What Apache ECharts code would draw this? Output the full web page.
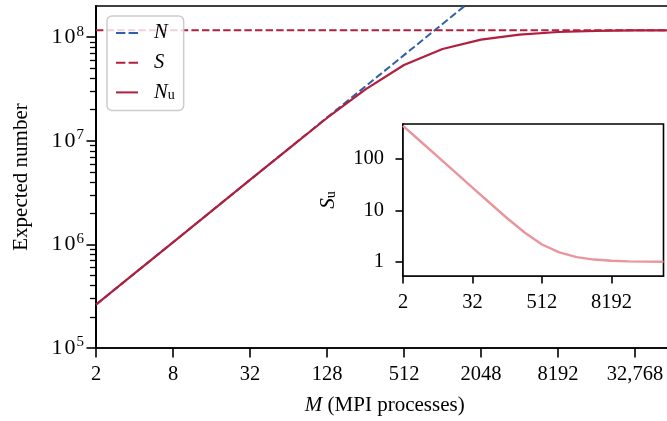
<!DOCTYPE html>
<html><head><meta charset="utf-8">
<script src="https://cdn.jsdelivr.net/npm/echarts@6/dist/echarts.min.js"></script>
<style>html,body{margin:0;padding:0;background:#fff}#c{width:667px;height:421px}</style>
</head><body><div id="c"></div>
<script>
// ---- data ----
const M = [2, 4, 8, 16, 32, 64, 128, 256, 512, 1024, 2048, 4096, 8192, 16384, 32768, 65536];
const N = [262144, 524288, 1048576, 2097152, 4194304, 8388608, 16777216, 33554432, 67108864,
           134217728, 268435456, 536870912, 1073741824, 2147483648, 4294967296, 8589934592];
const S = [1.166e8, 1.166e8, 1.166e8, 1.166e8, 1.166e8, 1.166e8, 1.166e8, 1.166e8, 1.166e8,
           1.166e8, 1.166e8, 1.166e8, 1.166e8, 1.166e8, 1.166e8, 1.166e8];
const Nu = [262000, 524000, 1048000, 2096000, 4190000, 8370000, 16600000, 31400000, 53900000,
            76900000, 94600000, 105700000, 112200000, 115300000, 116300000, 116600000];
const Su = [445, 222.5, 111.3, 55.6, 27.8, 13.93, 7.02, 3.71, 2.16, 1.52, 1.23, 1.10, 1.04, 1.012, 1.003, 1.0];

const xTicksMain = [2, 8, 32, 128, 512, 2048, 8192, 32768];
const xLabelsMain = ['2', '8', '32', '128', '512', '2048', '8192', '32,768'];
const yTicksMain = [1e5, 1e6, 1e7, 1e8];
const yMinorMain = [2e5,3e5,4e5,5e5,6e5,7e5,8e5,9e5, 2e6,3e6,4e6,5e6,6e6,7e6,8e6,9e6, 2e7,3e7,4e7,5e7,6e7,7e7,8e7,9e7];
const xTicksInset = [2, 32, 512, 8192];
const yTicksInset = [1, 10, 100];

// ---- styling ----
const FONT = 'Liberation Serif';
const BLUE = '#3060a8';
const RED = '#b11f3f';
const PINK = '#e8959c';
const DASH = [7.4, 3.2];
const TICKFS = 20.5;

const pairs = (xs, ys) => xs.map((x, i) => [x, ys[i]]);
const base = { fontFamily: FONT, fontSize: TICKFS, color: '#000' };
const nameBase = { fontFamily: FONT, fontSize: 21, color: '#000' };

const chart = echarts.init(document.getElementById('c'), null, { renderer: 'canvas' });
chart.setOption({
  animation: false,
  backgroundColor: '#fff',
  grid: [
    { left: 96, top: 6, width: 577.5, height: 342, containLabel: false, outerBoundsMode: 'none',
      show: true, borderColor: '#000', borderWidth: 1.6, backgroundColor: 'transparent' },
    { left: 403, top: 124, width: 260.5, height: 152, containLabel: false, outerBoundsMode: 'none',
      show: true, borderColor: '#000', borderWidth: 1.6, backgroundColor: '#fff', z: 10 }
  ],
  xAxis: [
    { type: 'log', logBase: 2, gridIndex: 0, min: 2, max: 65536,
      axisLine: { show: true, lineStyle: { color: '#000', width: 1.6 } },
      axisTick: { show: true, length: 9.5, customValues: xTicksMain, lineStyle: { color: '#000', width: 1.6 } },
      axisLabel: { customValues: xTicksMain, margin: 16, ...base,
        formatter: v => { const i = xTicksMain.indexOf(Math.round(v)); return i >= 0 ? xLabelsMain[i] : ''; } },
      splitLine: { show: false }, minorTick: { show: false },
      name: '{i|M} (MPI processes)', nameLocation: 'middle', nameGap: 47,
      nameTextStyle: { ...nameBase, rich: { i: { ...nameBase, fontStyle: 'italic' } } } },
    { type: 'log', logBase: 2, gridIndex: 1, min: 2, max: 65536,
      axisLine: { show: true, lineStyle: { color: '#000', width: 1.6 } },
      axisTick: { show: true, length: 7.5, customValues: xTicksInset, lineStyle: { color: '#000', width: 1.6 } },
      axisLabel: { customValues: xTicksInset, margin: 16, ...base, formatter: v => String(Math.round(v)) },
      splitLine: { show: false } }
  ],
  yAxis: [
    { type: 'log', logBase: 10, gridIndex: 0, min: 1e5, max: 2e8, position: 'left',
      axisLine: { show: true, lineStyle: { color: '#000', width: 1.6 } },
      axisTick: { show: true, length: 9.5, customValues: yTicksMain, lineStyle: { color: '#000', width: 1.6 } },
      axisLabel: { customValues: yTicksMain, margin: 12,
        formatter: v => '{b|1}{g|0}{s|' + Math.round(Math.log10(v)) + '}',
        rich: { b: { ...base, fontSize: 22, lineHeight: 26 },
                g: { ...base, fontSize: 22, lineHeight: 26, padding: [0, 0, 0, 2] },
                s: { ...base, fontSize: 15, lineHeight: 17, verticalAlign: 'top', padding: [0, 0, 0, 1] } } },
      splitLine: { show: false },
      name: 'Expected number', nameLocation: 'middle', nameGap: 64, nameTextStyle: { ...nameBase } },
    { type: 'log', logBase: 10, gridIndex: 0, min: 1e5, max: 2e8, position: 'left',
      axisLine: { show: true, lineStyle: { color: '#000', width: 1.6 } },
      axisTick: { show: true, length: 6, customValues: yMinorMain, lineStyle: { color: '#000', width: 1.3 } },
      axisLabel: { show: false }, splitLine: { show: false } },
    { type: 'log', logBase: 10, gridIndex: 1, min: 0.526, max: 483, position: 'left',
      axisLine: { show: true, lineStyle: { color: '#000', width: 1.6 } },
      axisTick: { show: true, length: 7.5, customValues: yTicksInset, lineStyle: { color: '#000', width: 1.6 } },
      axisLabel: { customValues: yTicksInset, margin: 19, ...base, formatter: v => String(Math.round(v)) },
      splitLine: { show: false },
      name: '{i|S}{sub|u}', nameLocation: 'middle', nameGap: 65,
      nameTextStyle: { ...nameBase, rich: { i: { ...nameBase, fontStyle: 'italic', lineHeight: 20 },
                                           sub: { ...nameBase, fontSize: 14, lineHeight: 12, verticalAlign: 'bottom' } } } }
  ],
  legend: {
    orient: 'vertical', left: 107, top: 16,
    padding: [7, 9, 8, 8], itemGap: 9.7, itemWidth: 22, itemHeight: 14,
    backgroundColor: 'rgba(255,255,255,0.8)', borderColor: '#cccccc', borderWidth: 1.5, borderRadius: 5,
    itemStyle: { opacity: 0 },
    data: [
      { name: 'N', lineStyle: { type: [9.4, 3.2] } },
      { name: 'S', lineStyle: { type: [9.4, 3.2] } },
      { name: 'N_u' }
    ],
    formatter: n => n === 'N_u' ? '{i|N}{sub|u}' : '{i|' + n + '}',
    textStyle: { ...nameBase, rich: {
      i: { ...nameBase, fontSize: 20.5, fontStyle: 'italic', lineHeight: 20, padding: [0, 0, 0, 11] },
      sub: { ...nameBase, fontSize: 14, lineHeight: 12, verticalAlign: 'bottom' } } },
    selectedMode: false
  },
  series: [
    { name: 'N', type: 'line', xAxisIndex: 0, yAxisIndex: 0, data: pairs(M, N), symbol: 'none',
      lineStyle: { color: BLUE, width: 2, type: DASH }, itemStyle: { color: BLUE }, clip: true, z: 2 },
    { name: 'S', type: 'line', xAxisIndex: 0, yAxisIndex: 0, data: pairs(M, S), symbol: 'none',
      lineStyle: { color: RED, width: 2, type: DASH }, itemStyle: { color: RED }, clip: true, z: 3 },
    { name: 'N_u', type: 'line', xAxisIndex: 0, yAxisIndex: 0, data: pairs(M, Nu), symbol: 'none',
      lineStyle: { color: RED, width: 2.2 }, itemStyle: { color: RED }, clip: true, z: 4 },
    { name: 'S_u', type: 'line', xAxisIndex: 1, yAxisIndex: 2, data: pairs(M, Su), symbol: 'none',
      lineStyle: { color: PINK, width: 2.4 }, itemStyle: { color: PINK }, clip: true, z: 12 }
  ]
});
</script></body></html>
